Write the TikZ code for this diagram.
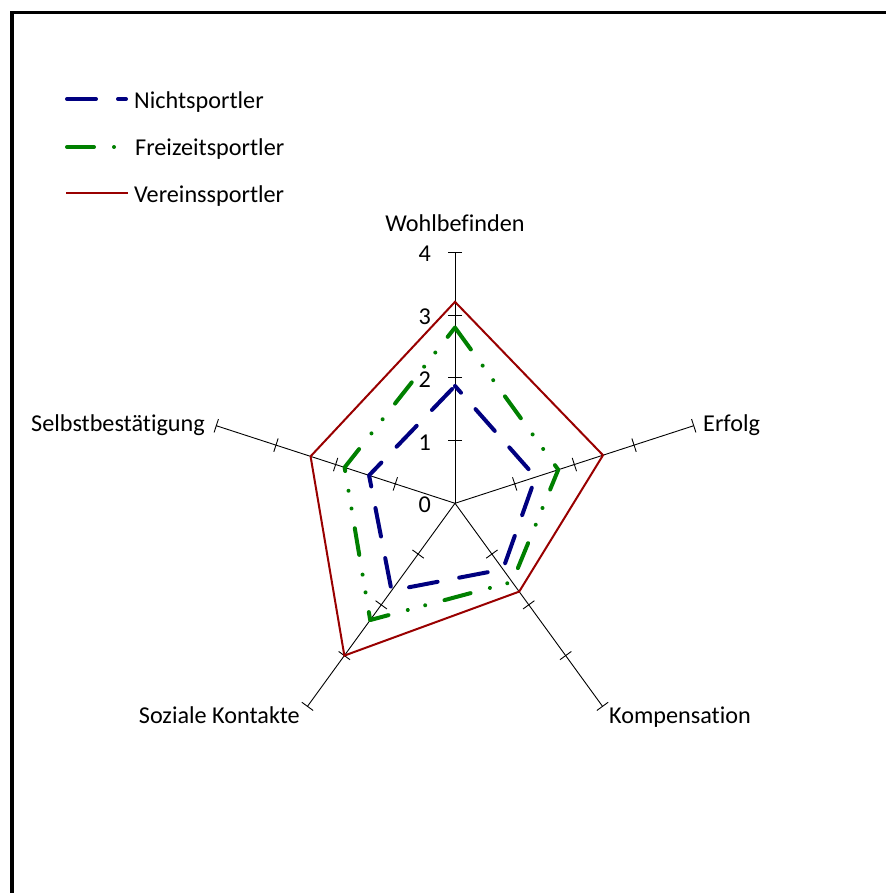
\documentclass[tikz,border=0pt]{standalone}
\usepackage{fontspec}
\setmainfont{Carlito}[Ligatures=NoCommon]
\usetikzlibrary{calc}
\definecolor{nblue}{RGB}{0,0,128}
\definecolor{fgreen}{RGB}{0,128,0}
\definecolor{vred}{RGB}{153,0,0}
\begin{document}
\begin{tikzpicture}[x=1pt,y=1pt,
  font=\fontsize{24.2}{29}\selectfont,
  lbl/.style={inner sep=0pt},
  axisline/.style={black,line width=0.9pt},
  nicht/.style={nblue,line width=4pt,line cap=round,line join=round,dash pattern=on 29pt off 22pt},
  freizeit/.style={fgreen,line width=4pt,line cap=round,line join=round,dash pattern=on 27pt off 20pt on 0.01pt off 18pt on 0.01pt off 20pt},
  verein/.style={vred,line width=2pt,line join=miter}]
\useasboundingbox (0,0) rectangle (885,893);
\fill[white] (0,0) rectangle (885,893);
% frame (top and left edges visible)
\draw[line width=4pt] (12,-5) -- (12,882);
\draw[line width=3pt] (10,880.5) -- (890,880.5);
% centre and axes
\def\u{62.75}
\coordinate (c) at (455,389.7);
\foreach \a/\n in {90/W,18/E,-54/K,-126/S,162/B}{
  \coordinate (ax\n) at ($(c)+(\a:4*\u)$);
  \draw[axisline] (c) -- (ax\n);
  \begin{scope}[shift={(c)},rotate=\a]
    \foreach \k in {1,2,3,4}{
      \draw[axisline] (\k*\u,-7) -- (\k*\u,7);
    }
  \end{scope}
}
% scale numbers
\foreach \k in {0,1,2,3,4}{
  \node[lbl,anchor=east] (num\k) at (431,389.7+\k*\u-1.8) {\k};
}
% axis labels
\node[lbl,anchor=base] (lW) at (455,893-232) {Wohlbefinden};
\node[lbl,anchor=base west] (lE) at (703,893-431.5) {Erfolg};
\node[lbl,anchor=base west] (lK) at (609,893-723.5) {Kompensation};
\node[lbl,anchor=base east] (lS) at (300,893-723.5) {Soziale Kontakte};
\node[lbl,anchor=base east] (lB) at (205,893-431.7) {Selbstbestätigung};
% data points
\foreach \s/\w/\e/\k/\z/\b in {n/1.87/1.35/1.30/1.72/1.44, f/2.80/1.73/1.55/2.30/1.85, v/3.21/2.48/1.74/3.00/2.42}{
  \coordinate (\s W) at ($(c)+(90:\w*\u)$);
  \coordinate (\s E) at ($(c)+(18:\e*\u)$);
  \coordinate (\s K) at ($(c)+(-54:\k*\u)$);
  \coordinate (\s S) at ($(c)+(-126:\z*\u)$);
  \coordinate (\s B) at ($(c)+(162:\b*\u)$);
}
\draw[nicht,dash phase=20pt] (nW) -- (nE) -- (nK) -- (nS) -- (nB) -- cycle;
\draw[freizeit] (fW) -- (fE) -- (fK) -- (fS) -- (fB) -- cycle;
\draw[verein] (vW) -- (vE) -- (vK) -- (vS) -- (vB) -- cycle;
% legend
\coordinate (g1a) at (67,794);  \coordinate (g1b) at (126,794);
\coordinate (g2a) at (67,746);  \coordinate (g2b) at (126,746);
\coordinate (g3a) at (66,700);  \coordinate (g3b) at (128,700);
\draw[nicht] (g1a) -- (g1b);
\draw[freizeit] (g2a) -- (g2b);
\draw[verein] (g3a) -- (g3b);
\node[lbl,anchor=base west] (t1) at (134,893-108.3) {Nichtsportler};
\node[lbl,anchor=base west] (t2) at (135,893-155.7) {Freizeitsportler};
\node[lbl,anchor=base west] (t3) at (134,893-202.3) {Vereinssportler};
\end{tikzpicture}
\end{document}
